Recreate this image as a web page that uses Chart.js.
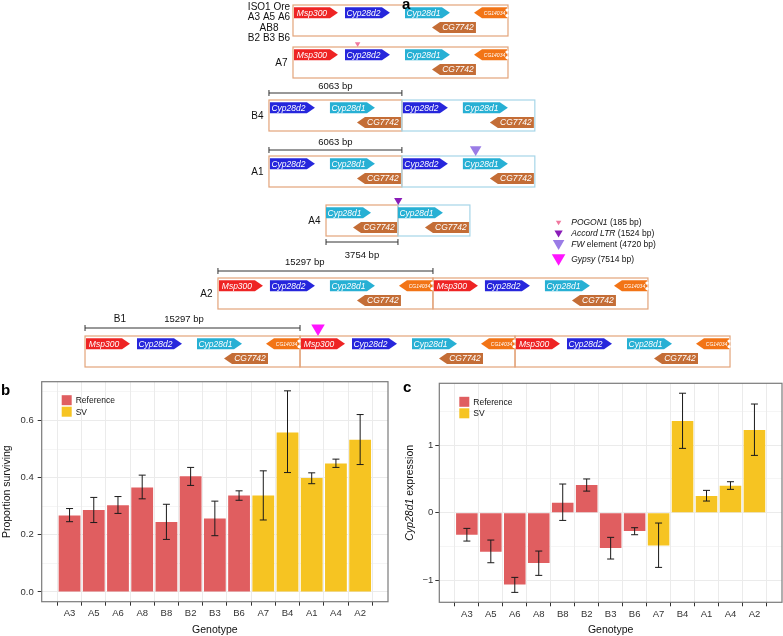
<!DOCTYPE html>
<html>
<head>
<meta charset="utf-8">
<script src="https://cdn.jsdelivr.net/npm/chart.js@4.4.1/dist/chart.umd.min.js"></script>
<style>
  body { margin: 0; background: #fff; }
  #page { position: relative; width: 783px; height: 636px; font-family: "Liberation Sans", Arial, sans-serif; }
  canvas { position: absolute; }
  .panel { position: absolute; font-weight: bold; font-size: 15px; line-height: 1; color: #000; }
</style>
</head>
<body>
<div id="page">
  <canvas id="geneMap" width="783" height="372" style="left:0;top:0"></canvas>
  <canvas id="survivalChart" width="392" height="264" style="left:0;top:372px"></canvas>
  <canvas id="expressionChart" width="391" height="264" style="left:392px;top:372px"></canvas>
  <div class="panel" style="left:402px;top:-4px">a</div>
  <div class="panel" style="left:1px;top:382px">b</div>
  <div class="panel" style="left:403px;top:379px">c</div>
</div>
<script>
const FONT = '"Liberation Sans", Arial, sans-serif';

// ---- panel a: gene map (x in kb of the schematic, y in track units) ----
const geneNames = ['Msp300', 'Cyp28d2', 'Cyp28d1', 'CG7742', 'CG14034'];
const geneStart = [0.07, 3.70, 7.97, 9.89, 12.88];
const geneEnd = [3.20, 6.90, 11.17, 13.02, 15.23];
const geneStrand = [1, 1, 1, -1, -1];
const geneLane = [0, 0, 0, 1, 0];
const geneColors = ['#ee2424', '#2626dc', '#27b0d4', '#c46d36', '#f27416'];

const rowNames = ['ISO1 Ore\nA3 A5 A6\nAB8\nB2 B3 B6', 'A7', 'B4', 'A1', 'A4', 'A2', ''];
const rowTrack = [0.5, 4.7, 10.0, 15.6, 20.5, 27.8, 33.6];
const segFrom = [0, 0, 3.63, 3.63, 7.97, 0, 0];
const segTo = [15.3, 15.3, 13.09, 13.09, 13.09, 15.3, 15.3];
const copyStart = [[20.85], [20.85], [19.14, 28.60], [19.14, 28.60], [23.20, 28.32], [15.51, 30.81], [6.05, 21.35, 36.65]];
const copyDuplicated = [[0], [0], [0, 1], [0, 1], [0, 1], [0, 0], [0, 0, 0]];

const bracketFrom = [19.14, 19.14, 23.20, 15.51, 6.05];
const bracketTo = [28.60, 28.60, 28.32, 30.81, 21.35];
const bracketTrack = [9.3, 15.0, 24.2, 27.1, 32.8];
const bracketText = ['6063 bp', '6063 bp', '3754 bp', '15297 bp', '15297 bp'];
const bracketTextKb = [23.87, 23.87, 25.76, 21.69, 13.09];
const bracketTextTrack = [8.6, 14.2, 25.5, 26.2, 31.9];

const insertItalic = ['POGON1', 'Accord LTR', 'FW', 'Gypsy'];
const insertPlain = [' (185 bp)', ' (1524 bp)', ' element (4720 bp)', ' (7514 bp)'];
const insertSize = [185, 1524, 4720, 7514];
const insertRow = [1, 4, 3, 6];
const insertKb = [25.45, 28.34, 33.85, 22.63];
const insertColors = ['#f0789e', '#8a1cb8', '#9a7ce6', '#ff14ff'];
const insertLegendTrack = [22.3, 23.4, 24.5, 26.0];

// ---- panels b and c ----
const genotypes = ['A3', 'A5', 'A6', 'A8', 'B8', 'B2', 'B3', 'B6', 'A7', 'B4', 'A1', 'A4', 'A2'];
const referenceCount = 8;
const survival = [0.268, 0.287, 0.304, 0.366, 0.245, 0.405, 0.257, 0.338, 0.338, 0.558, 0.399, 0.450, 0.533];
const survivalLow = [0.246, 0.243, 0.275, 0.326, 0.184, 0.373, 0.197, 0.321, 0.252, 0.418, 0.379, 0.436, 0.446];
const survivalHigh = [0.292, 0.331, 0.334, 0.409, 0.307, 0.436, 0.318, 0.354, 0.424, 0.704, 0.417, 0.465, 0.621];
const expression = [-0.326, -0.578, -1.062, -0.746, 0.148, 0.410, -0.523, -0.272, -0.484, 1.358, 0.247, 0.400, 1.226];
const expressionLow = [-0.420, -0.741, -1.180, -0.928, -0.114, 0.320, -0.686, -0.326, -0.810, 0.953, 0.173, 0.346, 0.849];
const expressionHigh = [-0.232, -0.405, -0.958, -0.568, 0.425, 0.500, -0.365, -0.222, -0.153, 1.770, 0.331, 0.459, 1.610];

const REF_COLOR = '#e05e60';
const SV_COLOR = '#f6c422';


/**
 * Draws one gene as an arrow with its name inside.
 */
function drawGene(ctx, x0, x1, yc, h, strand, color, label) {
    const head = Math.min(8, (x1 - x0) * 0.3);
    ctx.beginPath();
    if (strand > 0) {
        ctx.moveTo(x0, yc - h / 2);
        ctx.lineTo(x1 - head, yc - h / 2);
        ctx.lineTo(x1, yc);
        ctx.lineTo(x1 - head, yc + h / 2);
        ctx.lineTo(x0, yc + h / 2);
    } else {
        ctx.moveTo(x1, yc - h / 2);
        ctx.lineTo(x0 + head, yc - h / 2);
        ctx.lineTo(x0, yc);
        ctx.lineTo(x0 + head, yc + h / 2);
        ctx.lineTo(x1, yc + h / 2);
    }
    ctx.closePath();
    ctx.fillStyle = color;
    ctx.fill();

    const small = label === 'CG14034';
    if (small) {
        // truncated end
        ctx.fillStyle = '#fff';
        [-0.25, 0.25].forEach(f => {
            ctx.beginPath();
            ctx.arc(x1, yc + f * h, 1.6, 0, Math.PI * 2);
            ctx.fill();
        });
    }
    const mid = strand > 0 ? (x0 + x1 - head) / 2 : (x0 + head + x1) / 2;
    ctx.font = `italic ${small ? 5 : 8.5}px ${FONT}`;
    ctx.fillStyle = '#fff';
    ctx.textAlign = 'center';
    ctx.textBaseline = 'middle';
    ctx.fillText(label, mid, yc + 0.5);
}


function drawTriangle(ctx, x, yTip, w, color) {
    const h = w * 0.85;
    ctx.beginPath();
    ctx.moveTo(x - w / 2, yTip - h);
    ctx.lineTo(x + w / 2, yTip - h);
    ctx.lineTo(x, yTip);
    ctx.closePath();
    ctx.fillStyle = color;
    ctx.fill();
}


const geneMapPlugin = {
    id: 'geneMap',
    afterDraw(chart) {
        const ctx = chart.ctx;
        const px = v => chart.scales.x.getPixelForValue(v);
        const py = v => chart.scales.y.getPixelForValue(v);
        const boxDepth = 3.1, geneDepth = 1.1, laneCentre = [0.78, 2.25];
        ctx.save();

        rowNames.forEach((name, r) => {
            const top = rowTrack[r];
            copyStart[r].forEach((start, c) => {
                const from = segFrom[r], to = segTo[r];
                const x0 = px(start), x1 = px(start + to - from);
                ctx.strokeStyle = copyDuplicated[r][c] ? '#a6d5e8' : '#e3a47a';
                ctx.lineWidth = 1.2;
                ctx.strokeRect(x0, py(top), x1 - x0, py(top + boxDepth) - py(top));
            });
            copyStart[r].forEach(start => {
                const from = segFrom[r], to = segTo[r];
                geneNames.forEach((g, i) => {
                    if (geneStart[i] < from - 0.05 || geneEnd[i] > to + 0.05) return;
                    const lane = top + laneCentre[geneLane[i]];
                    drawGene(ctx, px(start + geneStart[i] - from), px(start + geneEnd[i] - from),
                        py(lane), py(lane + geneDepth / 2) - py(lane - geneDepth / 2),
                        geneStrand[i], geneColors[i], g);
                });
            });

            // row label
            ctx.fillStyle = '#111';
            ctx.font = `10px ${FONT}`;
            ctx.textBaseline = 'middle';
            if (r === 0) {
                ctx.textAlign = 'center';
                name.split('\n').forEach((line, k) => {
                    ctx.fillText(line, px(copyStart[r][0]) - 24, py(top + 0.23 + k * 1.03));
                });
            } else if (name) {
                ctx.textAlign = 'right';
                ctx.fillText(name, px(copyStart[r][0]) - 5.5, py(top + boxDepth / 2) + 0.5);
            }
        });

        // brackets with lengths
        ctx.strokeStyle = '#333';
        ctx.lineWidth = 1;
        bracketText.forEach((text, b) => {
            const x0 = px(bracketFrom[b]), x1 = px(bracketTo[b]), y = py(bracketTrack[b]);
            ctx.beginPath();
            ctx.moveTo(x0, y); ctx.lineTo(x1, y);
            ctx.moveTo(x0, y - 3); ctx.lineTo(x0, y + 3);
            ctx.moveTo(x1, y - 3); ctx.lineTo(x1, y + 3);
            ctx.stroke();
            ctx.fillStyle = '#111';
            ctx.font = `9.5px ${FONT}`;
            ctx.textAlign = 'center';
            ctx.fillText(text, px(bracketTextKb[b]), py(bracketTextTrack[b]));
        });
        ctx.font = `10px ${FONT}`;
        ctx.fillText('B1', px(8.53), py(31.9));

        // insertions and their legend
        insertSize.forEach((size, k) => {
            const w = 4 + 0.11 * Math.sqrt(size);
            drawTriangle(ctx, px(insertKb[k]), py(rowTrack[insertRow[k]]), w, insertColors[k]);
            const ly = py(insertLegendTrack[k]);
            drawTriangle(ctx, px(39.75), ly + w * 0.85 / 2, w, insertColors[k]);
            ctx.fillStyle = '#111';
            ctx.textAlign = 'left';
            ctx.font = `italic 8.5px ${FONT}`;
            const xText = px(40.65);
            ctx.fillText(insertItalic[k], xText, ly);
            const wItalic = ctx.measureText(insertItalic[k]).width;
            ctx.font = `8.5px ${FONT}`;
            ctx.fillText(insertPlain[k], xText + wItalic, ly);
        });
        ctx.restore();
    }
};

new Chart(document.getElementById('geneMap'), {
    type: 'scatter',
    data: { datasets: [] },
    options: {
        responsive: false,
        animation: false,
        layout: { padding: 0 },
        scales: {
            x: { type: 'linear', min: 0, max: 55.72, display: false },
            y: { type: 'linear', min: 0, max: 37.2, reverse: true, display: false },
        },
        plugins: { legend: { display: false }, tooltip: { enabled: false } },
    },
    plugins: [geneMapPlugin],
});


/**
 * Error bars, panel border, inside legend and the y title.
 */
const panelExtras = {
    id: 'panelExtras',
    afterDatasetsDraw(chart, args, opts) {
        const { ctx, chartArea } = chart;
        const ys = chart.scales.y;
        ctx.save();

        chart.data.datasets.forEach((ds, d) => {
            chart.getDatasetMeta(d).data.forEach((bar, i) => {
                const yLo = ys.getPixelForValue(ds.errLow[i]);
                const yHi = ys.getPixelForValue(ds.errHigh[i]);
                ctx.strokeStyle = '#1a1a1a';
                ctx.lineWidth = 1;
                ctx.beginPath();
                ctx.moveTo(bar.x, yLo); ctx.lineTo(bar.x, yHi);
                ctx.moveTo(bar.x - 3.5, yLo); ctx.lineTo(bar.x + 3.5, yLo);
                ctx.moveTo(bar.x - 3.5, yHi); ctx.lineTo(bar.x + 3.5, yHi);
                ctx.stroke();
            });
        });

        ctx.strokeStyle = '#7a7a7a';
        ctx.lineWidth = 1.2;
        ctx.strokeRect(chartArea.left, chartArea.top, chartArea.width, chartArea.height);

        // legend
        ctx.font = `8.5px ${FONT}`;
        ctx.textAlign = 'left';
        ctx.textBaseline = 'middle';
        chart.data.datasets.forEach((ds, d) => {
            const x = chartArea.left + 20;
            const y = chartArea.top + 13.5 + d * 11.5;
            ctx.fillStyle = ds.backgroundColor;
            ctx.fillRect(x, y, 10, 10);
            ctx.fillStyle = '#111';
            ctx.fillText(ds.label, x + 14, y + 5.5);
        });

        // y title
        ctx.translate(opts.titleX, (chartArea.top + chartArea.bottom) / 2);
        ctx.rotate(-Math.PI / 2);
        ctx.fillStyle = '#111';
        const parts = opts.title;
        let total = 0;
        parts.forEach(([text, italic]) => {
            ctx.font = `${italic ? 'italic ' : ''}10.5px ${FONT}`;
            total += ctx.measureText(text).width;
        });
        let x = -total / 2;
        parts.forEach(([text, italic]) => {
            ctx.font = `${italic ? 'italic ' : ''}10.5px ${FONT}`;
            ctx.fillText(text, x, 0);
            x += ctx.measureText(text).width;
        });
        ctx.restore();
    }
};


/**
 * Renders a bar chart with error bars, one colour for reference lines and one for SV lines.
 */
function renderBarChart(canvasId, values, low, high, axis) {
    const points = values.map((v, i) => ({ x: i + 1, y: v }));
    const isMajor = v => Math.abs(v / axis.labelStep - Math.round(v / axis.labelStep)) < 1e-6;

    return new Chart(document.getElementById(canvasId), {
        type: 'bar',
        data: {
            datasets: [
                {
                    label: 'Reference',
                    data: points.slice(0, referenceCount),
                    errLow: low.slice(0, referenceCount),
                    errHigh: high.slice(0, referenceCount),
                    backgroundColor: REF_COLOR,
                },
                {
                    label: 'SV',
                    data: points.slice(referenceCount),
                    errLow: low.slice(referenceCount),
                    errHigh: high.slice(referenceCount),
                    backgroundColor: SV_COLOR,
                },
            ],
        },
        options: {
            responsive: false,
            animation: false,
            grouped: false,
            barPercentage: 0.9,
            categoryPercentage: 1,
            layout: { padding: { top: axis.top, right: axis.right, left: 0, bottom: 0 } },
            scales: {
                x: {
                    type: 'linear',
                    min: 0.4,
                    max: 13.6,
                    afterFit: s => { s.height = axis.xHeight; },
                    border: { display: false },
                    grid: { color: '#ebebeb', lineWidth: 1, tickLength: 4, tickColor: '#333' },
                    ticks: {
                        stepSize: 1,
                        includeBounds: false,
                        autoSkip: false,
                        maxRotation: 0,
                        padding: 2,
                        color: '#333',
                        font: { size: 9.5, family: FONT },
                        callback: v => genotypes[v - 1] || '',
                    },
                    title: {
                        display: true,
                        text: 'Genotype',
                        color: '#111',
                        padding: { top: 0, bottom: 1 },
                        font: { size: 10.5, family: FONT, lineHeight: 1 },
                    },
                },
                y: {
                    min: axis.min,
                    max: axis.max,
                    afterFit: s => { s.width = axis.yWidth; },
                    border: { display: false },
                    grid: {
                        color: '#ebebeb',
                        tickLength: 4,
                        lineWidth: c => (c.tick && isMajor(c.tick.value) ? 1 : 0.5),
                        tickColor: c => (c.tick && isMajor(c.tick.value) ? '#333' : 'rgba(0,0,0,0)'),
                    },
                    ticks: {
                        stepSize: axis.step,
                        includeBounds: false,
                        padding: axis.tickPadding,
                        color: '#333',
                        font: { size: 9.5, family: FONT },
                        callback: v => (isMajor(v) ? axis.format(v) : ''),
                    },
                },
            },
            plugins: {
                legend: { display: false },
                tooltip: { enabled: false },
                panelExtras: { title: axis.title, titleX: axis.titleX },
            },
        },
        plugins: [panelExtras],
    });
}

renderBarChart('survivalChart', survival, survivalLow, survivalHigh, {
    min: -0.034, max: 0.736, step: 0.1, labelStep: 0.2,
    format: v => v.toFixed(1),
    top: 8.7, right: 4, yWidth: 41.7, xHeight: 34.3, tickPadding: 4,
    title: [['Proportion surviving', false]], titleX: 7,
});

renderBarChart('expressionChart', expression, expressionLow, expressionHigh, {
    min: -1.327, max: 1.917, step: 0.5, labelStep: 1,
    format: v => (v < 0 ? '\u2212' + Math.abs(v) : String(v)),
    top: 11.3, right: 1, yWidth: 47.3, xHeight: 33.7, tickPadding: 2,
    title: [['Cyp28d1', true], [' expression', false]], titleX: 18,
});
</script>
</body>
</html>
